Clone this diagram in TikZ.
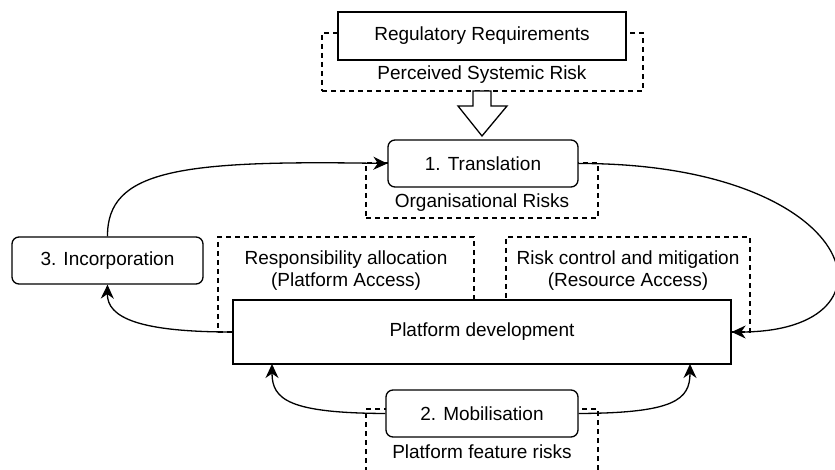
\documentclass[tikz,border=0pt]{standalone}
\usepackage{fontspec}
\setmainfont{Liberation Sans}
\usetikzlibrary{arrows.meta}
\begin{document}
\begin{tikzpicture}[x=1pt,y=-1pt,
  lw/.style={line width=1.3pt},
  solidbox/.style={draw, lw, fill=white, inner sep=0pt, align=center},
  roundbox/.style={solidbox, rounded corners=7pt},
  dashbox/.style={draw, lw, dash pattern=on 5pt off 4pt, inner sep=0pt},
  txt/.style={inner sep=0pt, align=center},
  conn/.style={lw, -{Stealth[length=14pt,width=13pt,inset=4.5pt]}},
  every node/.style={font=\fontsize{19}{22}\selectfont}
]
\useasboundingbox (0,0) rectangle (835,470);
\clip (0,0) rectangle (835,470);

% dashed risk boxes (behind)
\node[dashbox, minimum width=321, minimum height=58] (perc) at (482.5,62) {};
\node[dashbox, minimum width=232, minimum height=55] (org) at (482,190.5) {};
\node[dashbox, minimum width=256, minimum height=95] (resp) at (346,284.5) {};
\node[dashbox, minimum width=244, minimum height=95] (risk) at (628,284.5) {};
\node[dashbox, minimum width=232, minimum height=81] (feat) at (482,449.5) {};

% dashed box texts
\node[txt] (perct) at (482,75) {Perceived Systemic Risk};
\node[txt] (orgt) at (482,203) {Organisational Risks};
\node[txt] (respt) at (346,271) {Responsibility allocation\\(Platform Access)};
\node[txt] (riskt) at (628,271) {Risk control and mitigation\\(Resource Access)};
\node[txt] (featt) at (482,452) {Platform feature risks};

% solid boxes
\node[solidbox, minimum width=288, minimum height=48] (reg) at (482,36) {Regulatory Requirements};
\node[roundbox, minimum width=190, minimum height=47] (trans) at (483,163.5) {1. Translation};
\node[roundbox, minimum width=191, minimum height=47] (inc) at (107.5,260.5) {3. Incorporation};
\node[solidbox, minimum width=498, minimum height=64] (plat) at (482,332) {Platform development};
\node[roundbox, minimum width=192, minimum height=47] (mob) at (482,413.5) {2. Mobilisation};

% hollow block arrow
\draw[lw, fill=white] (473,91) -- (491,91) -- (491,106) -- (507,106) -- (482,136)
  -- (458,106) -- (473,106) -- cycle;

% connectors
\coordinate (pbl) at (272,364);
\coordinate (pbr) at (690,364);
\draw[conn] (inc.north) .. controls (107,170) and (180,160) .. (trans.west);
\draw[conn] (trans.east) .. controls (860,163) and (910,332) .. (plat.east);
\draw[conn] (plat.west) .. controls (140,332) and (107,318) .. (inc.south);
\draw[conn] (mob.west) .. controls (290,413) and (272,400) .. (pbl);
\draw[conn] (mob.east) .. controls (674,413) and (690,400) .. (pbr);
\end{tikzpicture}
\end{document}
